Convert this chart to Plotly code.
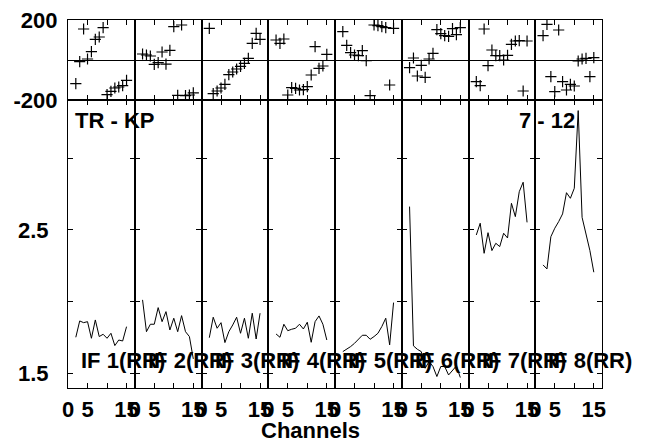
import plotly.graph_objects as go
from plotly.subplots import make_subplots

channels = list(range(2, 16))
if_labels = ["IF 1(RR)", "IF 2(RR)", "IF 3(RR)", "IF 4(RR)",
             "IF 5(RR)", "IF 6(RR)", "IF 7(RR)", "IF 8(RR)"]

amp_if1 = [1.751, 1.865, 1.853, 1.860, 1.744, 1.872, 1.756, 1.772, 1.744, 1.779, 1.693, 1.732, 1.725, 1.825]
amp_if2 = [2.012, 1.790, 1.842, 1.842, 1.958, 1.860, 1.930, 1.802, 1.884, 1.790, 1.902, 1.790, 1.756, 1.600]
amp_if3 = [1.748, 1.891, 1.814, 1.853, 1.714, 1.790, 1.837, 1.891, 1.779, 1.884, 1.744, 1.919, 1.739, 1.919]
amp_if4 = [1.774, 1.751, 1.842, 1.797, 1.807, 1.814, 1.842, 1.809, 1.856, 1.716, 1.860, 1.900, 1.842, 1.732]
amp_if5 = [1.651, 1.667, 1.686, 1.709, 1.737, 1.765, 1.765, 1.737, 1.756, 1.779, 1.826, 1.884, 1.698, 1.993]
amp_if6 = [2.663, 1.691, 1.667, 1.651, 1.535, 1.581, 1.547, 1.477, 1.547, 1.547, 1.488, 1.519, 1.551, 1.470]
amp_if7 = [2.465, 2.547, 2.337, 2.481, 2.356, 2.407, 2.384, 2.477, 2.444, 2.686, 2.593, 2.767, 2.833, 2.553]
amp_if8 = [2.256, 2.228, 2.453, 2.512, 2.558, 2.612, 2.760, 2.721, 2.791, 3.333, 2.588, 2.477, 2.356, 2.205]

ph_if1 = [-118, -8, 155, 5, 42, 103, 115, 162, -173, -157, -140, -135, -128, -102]
ph_if2 = [30, 25, 20, -22, -13, 40, -21, 48, 167, -177, 175, -178, -175, -164]
ph_if3 = [158, -168, -155, -140, -122, -73, -60, -45, -32, -17, 8, 83, 133, 103]
ph_if4 = [100, 83, 105, -175, -138, -142, -150, -148, -133, -75, 67, -42, -30, 28]
ph_if5 = [142, 73, 37, 25, 22, 47, -3, -178, 175, 172, 167, 162, -125, 158]
ph_if6 = [-38, 10, -80, -27, -87, 5, 33, 152, 132, 122, 118, 157, 127, 162]
ph_if7 = [-108, -128, 155, -28, 50, 22, 22, 0, 23, 78, 95, 97, -155, 95]
ph_if8 = [122, 178, -83, -158, 150, -108, -150, -122, -130, -5, 5, 8, -83, 12]

amps = [amp_if1, amp_if2, amp_if3, amp_if4, amp_if5, amp_if6, amp_if7, amp_if8]
phases = [ph_if1, ph_if2, ph_if3, ph_if4, ph_if5, ph_if6, ph_if7, ph_if8]

phase_ticks = [-200, 0, 200]
phase_ticktext = ["<b>-200</b>", "", "<b>200</b>"]
amp_ticks = [1.5, 2.0, 2.5, 3.0]
amp_ticktext = ["<b>1.5</b>", "", "<b>2.5</b>", ""]
chan_ticks = [0, 5, 10, 15]
chan_ticktext = ["<b>0</b>", "<b>5</b>", "", "<b>15</b>"]

# page body adds an 8px offset, so the figure is laid out 8px smaller/shifted
OFF = 8
W, H = 645 - OFF, 442 - OFF
ML, MR, MT, MB = 68 - OFF, 43, 20 - OFF, 54
PW, PH = W - ML - MR, H - MT - MB

FONT = "Liberation Sans, Arial, sans-serif"

fig = make_subplots(rows=2, cols=8, horizontal_spacing=0, vertical_spacing=0,
                    row_heights=[80 / 368, 288 / 368])

for i in range(8):
    c = i + 1
    fig.add_trace(go.Scatter(x=channels, y=phases[i], mode="markers",
                             marker=dict(symbol="cross-thin", size=8, color="black",
                                         line=dict(color="black", width=1.2)),
                             showlegend=False, hoverinfo="skip"), row=1, col=c)
    fig.add_trace(go.Scatter(x=channels, y=amps[i], mode="lines",
                             line=dict(color="black", width=1),
                             showlegend=False, hoverinfo="skip"), row=2, col=c)

common_axis = dict(showline=True, linecolor="black", linewidth=1.2, mirror="ticks",
                   ticks="inside", ticklen=5, tickcolor="black", tickwidth=1,
                   showgrid=False, automargin=False, ticklabeloverflow="allow",
                   tickfont=dict(family=FONT, size=22, color="black", weight="bold"))

for i in range(8):
    c = i + 1
    fig.update_xaxes(range=[0, 17.1], tickvals=chan_ticks, ticktext=chan_ticktext,
                     showticklabels=False, zeroline=False, row=1, col=c, **common_axis)
    fig.update_xaxes(range=[0, 17.1], tickvals=chan_ticks, ticktext=chan_ticktext,
                     showticklabels=True, zeroline=False, row=2, col=c,
                     ticklabelstandoff=1, **common_axis)
    fig.update_yaxes(range=[-200, 200], tickvals=phase_ticks, ticktext=phase_ticktext,
                     showticklabels=(c == 1), zeroline=True, zerolinecolor="black",
                     zerolinewidth=1, row=1, col=c, ticklabelstandoff=5, **common_axis)
    fig.update_yaxes(range=[1.397, 3.407], tickvals=amp_ticks, ticktext=amp_ticktext,
                     showticklabels=(c == 1), zeroline=False, row=2, col=c,
                     ticklabelstandoff=14, **common_axis)

def px_x(p):
    return (p - OFF - ML) / PW

def px_y(p):
    return (H - MB - (p - OFF)) / PH

ann_font = dict(family=FONT, size=22, color="black", weight="bold")
fig.add_annotation(text="<b>TR - KP</b>", x=px_x(73), y=px_y(120), xref="paper", yref="paper",
                   xanchor="left", yanchor="middle", showarrow=False, font=ann_font)
fig.add_annotation(text="<b>7 - 12</b>", x=px_x(577), y=px_y(120), xref="paper", yref="paper",
                   xanchor="right", yanchor="middle", showarrow=False, font=ann_font)
for i, lab in enumerate(if_labels):
    fig.add_annotation(text="<b>" + lab + "</b>", x=px_x(79 + PW / 8 * i), y=px_y(360),
                       xref="paper", yref="paper", xanchor="left", yanchor="middle",
                       showarrow=False, font=ann_font)
fig.add_annotation(text="<b>Channels</b>", x=px_x(310), y=px_y(430), xref="paper",
                   yref="paper", xanchor="center", yanchor="middle", showarrow=False,
                   font=dict(family=FONT, size=22, color="black", weight="bold"))

fig.update_layout(width=W, height=H, margin=dict(l=ML, r=MR, t=MT, b=MB),
                  paper_bgcolor="white", plot_bgcolor="white")

fig.write_html("out.html")
